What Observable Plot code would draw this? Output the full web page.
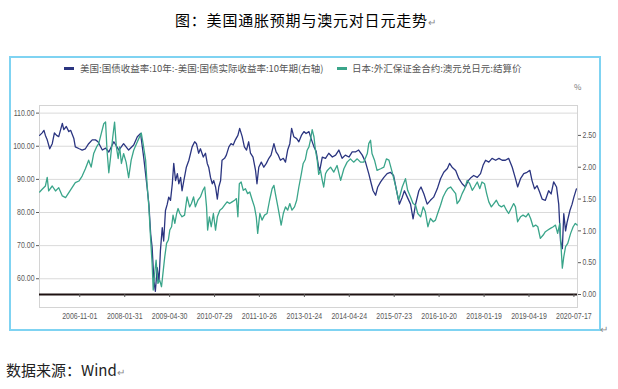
<!DOCTYPE html>
<html><head><meta charset="utf-8">
<script src="https://cdn.jsdelivr.net/npm/d3@7"></script>
<script src="https://cdn.jsdelivr.net/npm/@observablehq/plot@0.6"></script>
<style>
body{margin:0;background:#fff;width:618px;height:389px;position:relative;overflow:hidden;font-family:"Noto Sans CJK SC",sans-serif;}
.abs{position:absolute;white-space:nowrap;}
#title{left:175px;top:9px;font-size:15px;letter-spacing:0.8px;color:#000;line-height:22px;}
.ret{color:#8a8a8a;font-size:10px;letter-spacing:0;}
#frame{left:9px;top:56px;width:592px;height:275px;border:2px solid #7fd3f2;box-sizing:border-box;}
.lg{font-size:9.5px;color:#555;line-height:12px;top:62px;}
.sw{height:3px;width:10px;top:67px;}
#pct{left:574px;top:81px;font-size:8px;color:#777;}
#chart{left:10px;top:95px;}
#src{left:6px;top:359px;font-size:15px;color:#222;line-height:22px;}
#ret2{left:600px;top:321px;}
</style></head>
<body>
<div id="title" class="abs">图：美国通胀预期与澳元对日元走势<span class="ret">↵</span></div>
<div id="frame" class="abs"></div>
<div class="abs sw" style="left:64px;background:#2b3580;"></div>
<div class="abs lg" style="left:80px;">美国:国债收益率:10年:-美国:国债实际收益率:10年期(右轴)</div>
<div class="abs sw" style="left:337px;background:#3aa58a;"></div>
<div class="abs lg" style="left:352px;">日本:外汇保证金合约:澳元兑日元:结算价</div>
<div id="pct" class="abs">%</div>
<div id="chart" class="abs"></div>
<div id="ret2" class="abs ret">↵</div>
<div id="src" class="abs">数据来源：Wind<span class="ret">↵</span></div>
<script>
// US 10Y breakeven (10Y nominal - 10Y real), %, right axis
const beiYear = [2005.72,2005.79,2005.84,2005.88,2005.93,2006.00,2006.07,2006.13,2006.19,2006.25,2006.35,2006.39,2006.46,2006.53,2006.58,2006.67,2006.71,2006.82,2006.90,2006.99,2007.08,2007.18,2007.27,2007.34,2007.46,2007.55,2007.64,2007.78,2007.92,2008.05,2008.19,2008.33,2008.43,2008.52,2008.61,2008.70,2008.75,2008.80,2008.84,2008.89,2008.93,2008.98,2009.03,2009.07,2009.12,2009.16,2009.21,2009.26,2009.30,2009.35,2009.40,2009.44,2009.49,2009.54,2009.58,2009.63,2009.67,2009.72,2009.79,2009.86,2009.95,2010.02,2010.07,2010.13,2010.18,2010.26,2010.32,2010.37,2010.41,2010.46,2010.51,2010.55,2010.60,2010.65,2010.69,2010.74,2010.78,2010.85,2010.90,2010.97,2011.03,2011.09,2011.15,2011.22,2011.27,2011.34,2011.40,2011.46,2011.52,2011.57,2011.64,2011.71,2011.75,2011.80,2011.87,2011.94,2012.01,2012.08,2012.14,2012.22,2012.28,2012.34,2012.40,2012.48,2012.54,2012.60,2012.66,2012.71,2012.77,2012.85,2012.91,2012.98,2013.05,2013.11,2013.19,2013.25,2013.33,2013.39,2013.46,2013.49,2013.56,2013.65,2013.74,2013.84,2013.93,2014.02,2014.11,2014.20,2014.30,2014.39,2014.48,2014.57,2014.67,2014.76,2014.85,2014.92,2014.97,2015.04,2015.10,2015.18,2015.27,2015.36,2015.45,2015.54,2015.64,2015.70,2015.78,2015.84,2015.92,2016.01,2016.08,2016.15,2016.24,2016.30,2016.38,2016.47,2016.56,2016.65,2016.75,2016.84,2016.93,2017.03,2017.09,2017.16,2017.26,2017.35,2017.44,2017.53,2017.61,2017.69,2017.76,2017.86,2017.95,2018.02,2018.09,2018.18,2018.27,2018.37,2018.46,2018.55,2018.64,2018.73,2018.83,2018.92,2018.98,2019.06,2019.15,2019.24,2019.32,2019.38,2019.45,2019.52,2019.59,2019.66,2019.75,2019.84,2019.91,2019.98,2020.06,2020.12,2020.17,2020.22,2020.26,2020.31,2020.35,2020.43,2020.49,2020.54,2020.61];
const beiValue = [2.50,2.54,2.58,2.50,2.43,2.29,2.37,2.54,2.50,2.48,2.69,2.59,2.64,2.56,2.58,2.45,2.32,2.29,2.27,2.29,2.37,2.43,2.43,2.40,2.27,2.30,2.24,2.40,2.27,2.37,2.27,2.35,2.48,2.53,2.14,1.69,1.42,0.95,0.74,0.21,0.05,0.42,0.21,0.69,1.05,0.84,1.32,1.42,1.53,1.48,1.74,2.06,1.79,1.90,1.74,1.84,1.63,1.79,2.00,2.11,2.32,2.40,2.37,2.22,2.29,2.16,2.22,2.06,2.00,1.84,1.74,1.79,1.69,1.50,1.69,1.79,2.11,2.14,2.19,2.32,2.37,2.35,2.43,2.50,2.61,2.48,2.32,2.27,2.40,2.22,2.16,1.95,1.74,2.00,2.08,2.00,2.06,2.14,2.19,2.37,2.24,2.19,2.11,2.14,2.08,2.27,2.37,2.61,2.48,2.45,2.40,2.50,2.56,2.53,2.56,2.45,2.32,2.25,2.00,1.95,2.16,2.14,2.22,2.16,2.19,2.27,2.14,2.19,2.16,2.24,2.24,2.27,2.19,2.08,1.90,1.74,1.63,1.56,1.69,1.77,1.84,1.90,1.92,1.87,1.58,1.42,1.53,1.63,1.53,1.42,1.19,1.42,1.63,1.69,1.58,1.42,1.48,1.53,1.66,1.82,1.92,1.98,2.06,2.00,1.95,1.82,1.74,1.69,1.79,1.84,1.87,1.84,1.90,2.03,2.11,2.08,2.14,2.11,2.14,2.11,2.11,2.14,2.00,1.82,1.69,1.82,1.90,1.92,1.95,1.79,1.66,1.71,1.61,1.50,1.48,1.63,1.58,1.77,1.69,1.42,0.84,0.72,1.27,1.00,1.13,1.32,1.42,1.53,1.66];
// AUD/JPY settlement price, left axis
const audYear = [2005.72,2005.79,2005.88,2005.93,2005.97,2006.07,2006.16,2006.25,2006.35,2006.44,2006.53,2006.62,2006.71,2006.81,2006.90,2006.99,2007.08,2007.15,2007.22,2007.30,2007.36,2007.43,2007.50,2007.55,2007.59,2007.64,2007.69,2007.75,2007.80,2007.85,2007.90,2007.94,2007.99,2008.05,2008.12,2008.19,2008.26,2008.33,2008.41,2008.47,2008.54,2008.59,2008.66,2008.70,2008.75,2008.80,2008.84,2008.87,2008.91,2008.95,2009.00,2009.05,2009.10,2009.15,2009.19,2009.24,2009.29,2009.33,2009.38,2009.42,2009.47,2009.52,2009.56,2009.61,2009.67,2009.74,2009.81,2009.88,2009.93,2009.99,2010.04,2010.11,2010.18,2010.25,2010.30,2010.35,2010.38,2010.43,2010.48,2010.54,2010.60,2010.65,2010.72,2010.78,2010.85,2010.92,2010.99,2011.06,2011.13,2011.18,2011.22,2011.26,2011.31,2011.37,2011.43,2011.49,2011.55,2011.62,2011.68,2011.73,2011.77,2011.83,2011.89,2011.96,2012.03,2012.10,2012.17,2012.22,2012.26,2012.33,2012.38,2012.42,2012.48,2012.54,2012.60,2012.66,2012.72,2012.79,2012.85,2012.91,2012.98,2013.03,2013.09,2013.14,2013.19,2013.23,2013.28,2013.33,2013.37,2013.42,2013.46,2013.51,2013.56,2013.60,2013.65,2013.70,2013.79,2013.88,2013.97,2014.07,2014.16,2014.25,2014.34,2014.43,2014.53,2014.62,2014.71,2014.81,2014.85,2014.90,2014.94,2015.01,2015.08,2015.18,2015.27,2015.34,2015.41,2015.50,2015.59,2015.68,2015.78,2015.87,2015.93,2016.01,2016.08,2016.15,2016.21,2016.29,2016.36,2016.42,2016.49,2016.56,2016.64,2016.70,2016.76,2016.84,2016.91,2016.98,2017.04,2017.12,2017.19,2017.26,2017.30,2017.37,2017.44,2017.51,2017.58,2017.65,2017.72,2017.78,2017.86,2017.93,2017.99,2018.06,2018.12,2018.18,2018.25,2018.32,2018.39,2018.46,2018.53,2018.60,2018.67,2018.73,2018.80,2018.87,2018.92,2018.98,2019.06,2019.13,2019.21,2019.28,2019.34,2019.41,2019.48,2019.54,2019.61,2019.69,2019.75,2019.82,2019.89,2019.97,2020.03,2020.09,2020.15,2020.19,2020.22,2020.26,2020.31,2020.37,2020.45,2020.52,2020.58,2020.63];
const audValue = [86.2,87.0,88.0,90.6,86.5,88.0,86.5,87.5,85.0,84.5,86.0,87.5,89.0,89.5,91.0,93.2,95.8,93.7,97.8,99.8,100.8,103.8,106.8,107.3,98.8,92.0,96.8,102.8,107.3,99.8,96.3,99.8,94.8,97.8,95.2,90.5,95.8,98.8,100.8,102.3,104.0,100.8,95.8,88.5,81.7,71.7,64.6,56.6,61.6,65.6,58.6,59.6,57.6,62.6,66.6,70.7,71.7,74.7,75.7,79.2,76.7,79.7,81.2,79.7,78.7,79.2,84.7,81.7,82.7,84.7,81.7,83.7,84.7,86.7,87.7,81.7,74.7,78.7,75.7,79.7,74.7,78.7,80.7,81.2,82.2,83.2,82.7,83.2,83.7,84.2,78.7,88.7,89.2,86.7,87.2,85.7,86.2,83.7,81.7,78.7,73.7,79.7,77.7,79.2,79.7,83.7,87.2,88.2,85.7,81.7,78.7,76.2,79.7,81.7,80.7,82.7,80.7,81.7,83.7,87.7,91.7,94.8,96.0,98.8,99.8,101.8,105.0,102.8,98.8,95.8,91.5,92.7,89.7,87.7,91.7,92.7,93.7,92.2,94.2,89.7,93.2,95.2,96.2,95.2,96.2,95.2,95.2,97.8,100.8,101.8,97.8,95.8,92.7,93.2,93.7,96.2,95.8,92.2,88.2,83.7,87.7,90.2,86.7,84.7,82.7,82.2,79.7,78.7,81.7,80.2,75.7,78.2,77.2,77.7,79.7,82.2,84.7,86.2,87.2,87.7,86.7,85.7,82.7,83.7,85.7,87.2,89.7,88.7,86.7,87.7,89.2,87.2,89.2,88.7,85.7,83.2,81.7,82.7,83.7,82.2,81.7,82.2,80.7,79.7,81.2,82.7,81.7,77.2,78.7,79.2,78.7,79.7,78.2,75.7,76.2,75.7,72.2,73.2,74.2,74.7,75.2,75.7,76.2,73.7,76.7,68.7,63.2,66.6,69.7,70.7,73.7,75.7,76.7,76.2];
const leftTicks = [60,70,80,90,100,110];
const rightTicks = [0,0.5,1,1.5,2,2.5];
const xTickLabels = ["2006-11-01","2008-01-31","2009-04-30","2010-07-29","2011-10-26","2013-01-24","2014-04-24","2015-07-23","2016-10-20","2018-01-19","2019-04-19","2020-07-17"];
const leftDomain = [55.25, 112.3];
const rightMax = 2.97;

const navy = "#2b3580", teal = "#3aa58a";
const toDate = y => { const yr = Math.floor(y); const s = Date.UTC(yr,0,1), e = Date.UTC(yr+1,0,1); return new Date(s + (y-yr)*(e-s)); };
const K = (leftDomain[1]-leftDomain[0]) / rightMax;
const toLeft = r => leftDomain[0] + r*K;
const bei = beiYear.map((y,i)=>({date:toDate(y), v:toLeft(beiValue[i])}));
const aud = audYear.map((y,i)=>({date:toDate(y), v:audValue[i]}));
const xt = xTickLabels.map(s=>new Date(s+"T00:00:00Z"));

const chart = Plot.plot({
  width:590, height:235,
  marginLeft:29, marginRight:23, marginTop:10, marginBottom:23,
  x:{type:"utc", domain:[toDate(2005.716), toDate(2020.640)], label:null},
  y:{domain:leftDomain, range:[199,10], label:null},
  style:{fontFamily:'"Liberation Sans Narrow","Liberation Sans",sans-serif', fontSize:"8.5px", color:"#5a5a5a", background:"transparent"},
  marks:[
    Plot.frame({stroke:"#d4d4d4"}),
    Plot.gridY(leftTicks, {stroke:"#dadada", strokeOpacity:1}),
    Plot.line(bei, {x:"date", y:"v", stroke:navy, strokeWidth:1.3}),
    Plot.line(aud, {x:"date", y:"v", stroke:teal, strokeWidth:1.3}),
    Plot.ruleY([toLeft(0)], {stroke:"#1e1212", strokeWidth:2}),
    Plot.axisY(leftTicks, {anchor:"left", tickSize:3, tickPadding:2, tickFormat:d=>d.toFixed(2)}),
    Plot.axisY(rightTicks.map(toLeft), {anchor:"right", tickSize:3, tickPadding:2, tickFormat:d=>((d-leftDomain[0])/K).toFixed(2)}),
    Plot.axisX(xt, {anchor:"bottom", tickSize:3, tickPadding:15, dy:-13, tickFormat:d3.utcFormat("%Y-%m-%d")})
  ]
});
document.getElementById("chart").appendChild(chart);
// condense tick label glyphs to mimic the narrow font of the original
chart.querySelectorAll("g[aria-label$='tick label'] text").forEach(t => {
  const w = t.getComputedTextLength();
  if (w > 0) { t.setAttribute("textLength", (w*0.82).toFixed(2)); t.setAttribute("lengthAdjust", "spacingAndGlyphs"); }
});
</script>
</body></html>
